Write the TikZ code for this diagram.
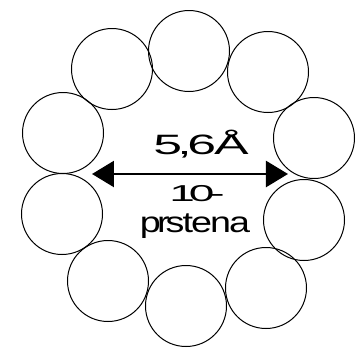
\documentclass[tikz,border=0pt]{standalone}
\usepackage{fontspec}
\setmainfont{Liberation Sans}
\usetikzlibrary{arrows.meta}
\begin{document}
\begin{tikzpicture}[x=1pt,y=-1pt,
  ring/.style={draw=black,line width=1pt,circle,minimum size=81pt,inner sep=0pt},
  lbl/.style={anchor=base,inner sep=0pt},
  dim/.style={line width=2.4pt,{Triangle[length=22pt,width=26pt]}-{Triangle[length=22pt,width=26pt]}}]
\useasboundingbox (0,0) rectangle (360,349);
\node[ring] (c1) at (189,51) {};
\node[ring] (c2) at (112,69) {};
\node[ring] (c3) at (268,72) {};
\node[ring] (c4) at (63,133) {};
\node[ring] (c5) at (314,138) {};
\node[ring] (c6) at (62,214) {};
\node[ring] (c7) at (304,220) {};
\node[ring] (c8) at (108,281) {};
\node[ring] (c9) at (266,288) {};
\node[ring] (c10) at (186,306) {};
\coordinate (aL) at (92,174);
\coordinate (aR) at (288,174);
\draw[dim] (aL) -- (aR);
\node[lbl,xscale=1.85,font=\fontsize{28}{30}\selectfont] (t1) at (201,154) {5\kern-2.5pt,\kern-2.5pt6\kern-1ptÅ};
\node[lbl,font=\fontsize{23}{25}\selectfont] (t2) at (197,201) {\scalebox{2}[1]{1\kern-3pt0\kern-2.5pt-}};
\node[lbl,xscale=1.3,font=\fontsize{29}{31}\selectfont] (t3) at (195,232) {p\kern-3ptr\kern-3pts\kern-1.5ptt\kern-1.5pte\kern-1.5ptn\kern-1.5pta};
\end{tikzpicture}
\end{document}
